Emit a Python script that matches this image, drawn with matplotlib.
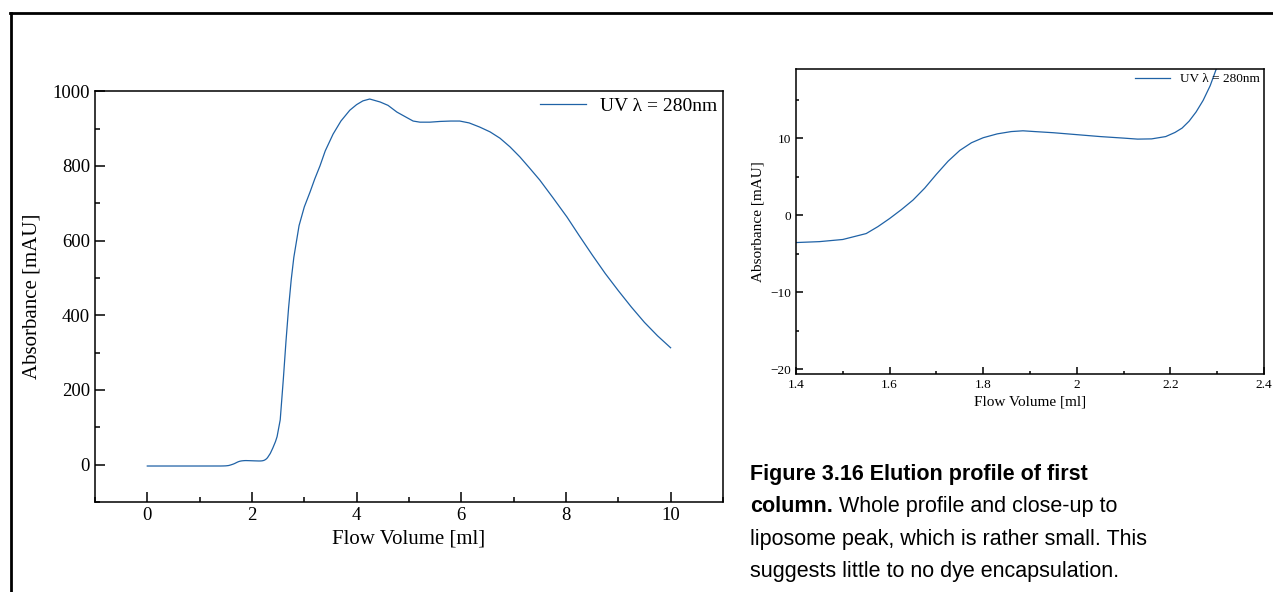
import matplotlib
matplotlib.use("Agg")
import matplotlib.pyplot as plt
from matplotlib.lines import Line2D
from matplotlib.ticker import MultipleLocator

# elution profile
volume = [0.0, 0.5, 1.0, 1.4, 1.45, 1.5, 1.55, 1.575, 1.6, 1.625, 1.65, 1.675,
          1.7, 1.725, 1.75, 1.775, 1.8, 1.83, 1.86, 1.885, 1.91, 1.95, 2.0, 2.05,
          2.1, 2.13, 2.16, 2.19, 2.21, 2.225, 2.24, 2.255, 2.27, 2.285, 2.3, 2.35,
          2.4, 2.45, 2.48, 2.54, 2.6, 2.65, 2.7, 2.75, 2.8, 2.9, 3.0, 3.11, 3.2,
          3.3, 3.4, 3.55, 3.7, 3.87, 4.0, 4.12, 4.25, 4.45, 4.6, 4.77, 4.95,
          5.08, 5.21, 5.4, 5.6, 5.8, 5.97, 6.15, 6.35, 6.55, 6.74, 6.93, 7.12, 7.3,
          7.5, 7.75, 8.02, 8.25, 8.5, 8.75, 9.0, 9.25, 9.5, 9.75, 10.0]
absorbance = [-3.6, -3.6, -3.6, -3.57, -3.45, -3.17, -2.4, -1.5, -0.45, 0.7, 1.95, 3.5,
              5.3, 7.0, 8.4, 9.4, 10.05, 10.55, 10.85, 10.95, 10.85, 10.7, 10.45, 10.2,
              10.0, 9.87, 9.9, 10.2, 10.74, 11.3, 12.2, 13.4, 14.9, 16.8, 19.3, 30,
              45, 62, 75, 120, 230, 330, 420, 495, 555, 640, 690, 730, 765,
              800, 840, 885, 920, 949, 964, 974, 979, 971, 962, 944, 930,
              920, 917, 917, 919, 920, 920, 915, 904, 891, 874, 851, 824, 795,
              762, 715, 663, 614, 562, 512, 466, 422, 381, 345, 313]

line_label = "UV λ = 280nm"
caption_bold = ["Figure 3.16 Elution profile of first", "column."]
caption_rest = ["", " Whole profile and close-up to",
                "liposome peak, which is rather small. This",
                "suggests little to no dye encapsulation."]

blue = "#1f62a6"
serif = "Liberation Serif"
sans = "Liberation Sans"

fig = plt.figure(figsize=(12.73, 5.92), dpi=100)


def style_axes(ax, major, minor, ymajor, yminor, size, tick_len):
    ax.xaxis.set_major_locator(MultipleLocator(major))
    ax.xaxis.set_minor_locator(MultipleLocator(minor))
    ax.yaxis.set_major_locator(MultipleLocator(ymajor))
    ax.yaxis.set_minor_locator(MultipleLocator(yminor))
    ax.tick_params(which="both", direction="in", top=False, right=False,
                   labelsize=size, width=1.1)
    ax.tick_params(which="major", length=tick_len)
    ax.tick_params(which="minor", length=tick_len / 2)
    for lab in ax.get_xticklabels() + ax.get_yticklabels():
        lab.set_family(serif)
    for sp in ax.spines.values():
        sp.set_linewidth(1.1)


# whole profile
ax1 = fig.add_axes([0.0746, 0.152, 0.4933, 0.694])
ax1.plot(volume, absorbance, color=blue, lw=0.9, label=line_label)
ax1.set_xlim(-1, 11)
ax1.set_ylim(-100, 1000)
style_axes(ax1, 2, 1, 200, 100, 13.5, 7.5)
ax1.xaxis.set_major_formatter(lambda v, p: "%g" % v)
ax1.set_xlabel("Flow Volume [ml]", family=serif, fontsize=15, labelpad=4)
ax1.set_ylabel("Absorbance [mAU]", family=serif, fontsize=15, labelpad=8)
ax1.legend(loc="upper right", frameon=False, borderaxespad=0.0, borderpad=0.3,
           handlelength=2.4, handletextpad=0.7, prop={"family": serif, "size": 14})

# close-up of the liposome peak
ax2 = fig.add_axes([0.6253, 0.3682, 0.3676, 0.515])
ax2.plot(volume, absorbance, color=blue, lw=0.9, label=line_label)
ax2.set_xlim(1.4, 2.4)
ax2.set_ylim(-20.65, 18.96)
style_axes(ax2, 0.2, 0.1, 10, 5, 9.5, 5)
ax2.xaxis.set_major_formatter(lambda v, p: "%g" % round(v, 1))
ax2.yaxis.set_major_formatter(lambda v, p: ("%g" % v).replace("-", "\u2212"))
ax2.set_xlabel("Flow Volume [ml]", family=serif, fontsize=11, labelpad=3)
ax2.set_ylabel("Absorbance [mAU]", family=serif, fontsize=11, labelpad=4)
ax2.legend(loc="upper right", frameon=False, borderaxespad=0.0, borderpad=0.3,
           handlelength=2.6, handletextpad=0.8, prop={"family": serif, "size": 9.5})

# frame lines at the top and left of the page
fig.add_artist(Line2D([10 / 1273, 1.0], [1 - 13 / 592, 1 - 13 / 592],
                      transform=fig.transFigure, color="black", lw=2.0))
fig.add_artist(Line2D([11 / 1273, 11 / 1273], [0.0, 1 - 13 / 592],
                      transform=fig.transFigure, color="black", lw=2.0))

# caption
renderer = fig.canvas.get_renderer()
x0 = 750 / 1273
baselines = [480, 512, 545, 577]
for i, y in enumerate(baselines):
    yf = 1 - y / 592
    x = x0
    if i < len(caption_bold):
        t = fig.text(x, yf, caption_bold[i], family=sans, weight="bold",
                     fontsize=15.5, va="baseline")
        x = t.get_window_extent(renderer).x1 / fig.bbox.width
    if caption_rest[i]:
        fig.text(x, yf, caption_rest[i], family=sans, fontsize=15.5, va="baseline")

fig.savefig("out.png", dpi=100)
